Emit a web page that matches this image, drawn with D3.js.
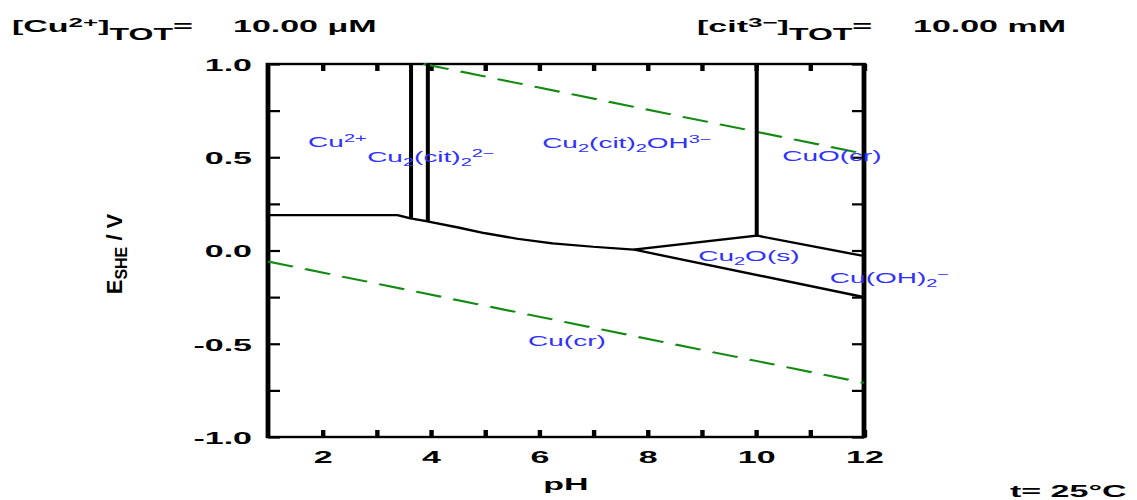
<!DOCTYPE html>
<html>
<head>
<meta charset="utf-8">
<script src="https://cdn.jsdelivr.net/npm/d3@7"></script>
<style>
  body { margin: 0; background: #fff; }
  svg { display: block; }
</style>
</head>
<body>
<svg id="chart" width="1137" height="500"></svg>
<script>
// ---- axes ----
const pHDomain = [1, 12];
const eDomain = [-1, 1];
const pHTicks = [2, 3, 4, 5, 6, 7, 8, 9, 10, 11, 12];
const pHTickLabels = [2, 4, 6, 8, 10, 12];
const eTicks = [-1, -0.75, -0.5, -0.25, 0, 0.25, 0.5, 0.75, 1];
const eTickLabels = [-1, -0.5, 0, 0.5, 1];

// ---- predominance boundaries (pH, E / V) ----
const acidPH = [1.0, 3.38, 3.64, 3.95, 4.5, 5.0, 5.6, 6.25, 7.0, 7.75];
const acidE  = [0.19, 0.19, 0.172, 0.156, 0.124, 0.093, 0.063, 0.038, 0.02, 0.005];
const cu2oUpperPH = [7.75, 10.02, 12.0];
const cu2oUpperE  = [0.005, 0.08, -0.03];
const cu2oLowerPH = [7.75, 12.0];
const cu2oLowerE  = [0.005, -0.25];
const verticalPH      = [3.64, 3.95, 10.02];
const verticalEBottom = [0.172, 0.156, 0.08];
const verticalETop    = [1.0, 1.0, 1.0];

// ---- water stability limits ----
const o2LinePH = [3.87, 12.0];
const o2LineE  = [1.0, 0.519];
const h2LinePH = [1.0, 12.0];
const h2LineE  = [-0.059, -0.71];

// ---- species fields ----
const speciesNames = ["Cu^{2+}", "Cu_{2}(cit)_{2}^{2\u2212}", "Cu_{2}(cit)_{2}OH^{3\u2212}",
                      "CuO(cr)", "Cu_{2}O(s)", "Cu(OH)_{2}^{\u2212}", "Cu(cr)"];
const speciesPH = [1.74, 2.83, 6.06, 10.49, 8.94, 11.37, 5.80];
const speciesE  = [0.555, 0.475, 0.55, 0.48, -0.056, -0.174, -0.513];

// ---- conditions ----
const cuTotalText = "10.00 \u03bcM";
const citTotalText = "10.00 mM";
const temperatureText = "t= 25\u00b0C";

const SX = 2; // horizontal stretch of the whole drawing
const svg = d3.select("#chart");
const g = svg.append("g").attr("transform", `scale(${SX},1)`);
const FONT = "'Liberation Sans', Arial, Helvetica, sans-serif";

const x = d3.scaleLinear().domain(pHDomain).range([134, 432]);
const y = d3.scaleLinear().domain(eDomain).range([437, 64]);

// rich text: "_{..}" subscript, "^{..}" superscript
function richText(sel, str, size, subSize, subDy, supSize, supDy) {
  const parts = str.match(/(_\{[^}]*\}|\^\{[^}]*\}|[^_^]+)/g);
  let cur = 0;
  parts.forEach(p => {
    let txt = p, fs = size, off = 0;
    if (p.startsWith("_{")) { txt = p.slice(2, -1); fs = subSize; off = subDy; }
    else if (p.startsWith("^{")) { txt = p.slice(2, -1); fs = supSize; off = supDy; }
    sel.append("tspan").attr("font-size", fs).attr("dy", off - cur).text(txt);
    cur = off;
  });
}

const isLabelE = d => eTickLabels.some(v => Math.abs(v - d) < 1e-9);
const isLabelPH = d => pHTickLabels.includes(d);

function styleAxis(ax) {
  ax.select(".domain").remove();
  ax.selectAll(".tick line").attr("stroke", "#000").attr("stroke-width", 2.2);
  ax.selectAll(".tick text").attr("font-family", FONT).attr("font-size", 17)
    .attr("font-weight", "bold").attr("fill", "#000");
}

// left axis with labels
g.append("g").attr("transform", `translate(${x(1)},0)`)
  .call(d3.axisLeft(y).tickValues(eTicks).tickSizeInner(-6).tickSizeOuter(0).tickPadding(8)
    .tickFormat(d => isLabelE(d) ? d.toFixed(1) : ""))
  .call(styleAxis)
  .selectAll(".tick text").attr("dy", "0.38em");

// right axis ticks
g.append("g").attr("transform", `translate(${x(12)},0)`)
  .call(d3.axisRight(y).tickValues(eTicks).tickSizeInner(-6).tickSizeOuter(0).tickFormat(""))
  .call(styleAxis);

// bottom axis with labels
g.append("g").attr("transform", `translate(0,${y(-1)})`)
  .call(d3.axisBottom(x).tickValues(pHTicks).tickSizeInner(-7).tickSizeOuter(0).tickPadding(14)
    .tickFormat(d => isLabelPH(d) ? String(d) : ""))
  .call(styleAxis);

// top axis ticks
g.append("g").attr("transform", `translate(0,${y(1)})`)
  .call(d3.axisTop(x).tickValues(pHTicks).tickSizeInner(-7).tickSizeOuter(0).tickFormat(""))
  .call(styleAxis);

// frame
g.append("rect")
  .attr("x", x(1)).attr("y", y(1))
  .attr("width", x(12) - x(1)).attr("height", y(-1) - y(1))
  .attr("fill", "none").attr("stroke", "#000").attr("stroke-width", 2.4);

const line = d3.line().x(d => x(d[0])).y(d => y(d[1]));
const zip = (a, b) => a.map((v, i) => [v, b[i]]);

// water limits
[[o2LinePH, o2LineE], [h2LinePH, h2LineE]].forEach(([px, pe]) => {
  g.append("path").attr("d", line(zip(px, pe)))
    .attr("fill", "none").attr("stroke", "#138a13").attr("stroke-width", 2)
    .attr("stroke-dasharray", "13.5,6.5");
});

// boundaries
[[acidPH, acidE], [cu2oUpperPH, cu2oUpperE], [cu2oLowerPH, cu2oLowerE]].forEach(([px, pe]) => {
  g.append("path").attr("d", line(zip(px, pe)))
    .attr("fill", "none").attr("stroke", "#000").attr("stroke-width", 2.2)
    .attr("stroke-linejoin", "round");
});
verticalPH.forEach((p, i) => {
  g.append("path").attr("d", line([[p, verticalEBottom[i]], [p, verticalETop[i]]]))
    .attr("fill", "none").attr("stroke", "#000").attr("stroke-width", 2);
});

// species labels
speciesNames.forEach((name, i) => {
  const t = g.append("text")
    .attr("x", x(speciesPH[i])).attr("y", y(speciesE[i]))
    .attr("font-family", FONT).attr("font-size", 14).attr("fill", "#3030ff");
  richText(t, name, 14, 10, 4, 10, -5);
});

// conditions text
function titleText(px, py, str) {
  const t = g.append("text").attr("x", px / SX).attr("y", py)
    .attr("font-family", FONT).attr("font-weight", "bold").attr("fill", "#000");
  richText(t, str, 17, 16, 8, 13, -5);
  return t;
}
titleText(12, 32, "[Cu^{2+}]_{TOT}=");
titleText(233, 32, cuTotalText);
titleText(697, 32, "[cit^{3\u2212}]_{TOT}=");
titleText(913, 32, citTotalText);
titleText(1010, 497, temperatureText);

// axis titles
g.append("text").attr("x", (x(1) + x(12)) / 2).attr("y", 490)
  .attr("text-anchor", "middle").attr("font-family", FONT).attr("font-weight", "bold")
  .attr("font-size", 17).attr("fill", "#000").text("pH");

const yl = svg.append("text")
  .attr("transform", "translate(122,254) rotate(-90)")
  .attr("text-anchor", "middle").attr("font-family", FONT).attr("font-weight", "bold")
  .attr("fill", "#000");
richText(yl, "E_{SHE} / V", 22, 16, 5, 16, -6);
</script>
</body>
</html>
